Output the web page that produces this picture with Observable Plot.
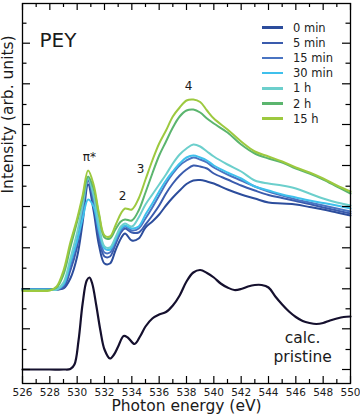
<!DOCTYPE html>
<html><head><meta charset="utf-8">
<script src="https://cdn.jsdelivr.net/npm/d3@7"></script>
<script src="https://cdn.jsdelivr.net/npm/@observablehq/plot@0.6"></script>
<style>
body{margin:0;background:#fff;font-family:"DejaVu Sans",sans-serif;}
#wrap{position:relative;width:360px;height:420px;}
#legend{position:absolute;left:262px;top:20px;font-size:11.5px;color:#222;font-family:"DejaVu Sans",sans-serif;}
.row{display:flex;align-items:center;height:15.2px;white-space:nowrap;}
.sw{width:21px;height:2.5px;margin-right:10px;}
</style></head><body><div id="wrap"></div>
<script>
// Photon energy grid (eV) for measured PEY spectra
const energy = [526, 527, 528, 528.5, 529, 529.5, 530, 530.4, 530.8, 531.2, 531.6, 532, 532.4, 532.8, 533.2, 533.5, 534, 534.5, 535, 535.5, 536, 536.5, 537, 537.5, 538, 538.5, 539, 539.5, 540, 541, 542, 543, 544, 545, 546, 547, 548, 549, 550];

const s0min  = [80.5, 80.5, 80.5, 80, 81, 91, 113, 147, 185, 159, 124, 106, 106, 119, 131, 136, 129, 131, 142, 148, 155, 164, 172, 179, 185.5, 189, 189.5, 188, 186, 180, 175, 171, 167, 166, 165, 162.5, 160, 157, 154];
const s5min  = [80.5, 80.5, 80.5, 80, 82, 99, 123, 156, 189, 165, 131, 113, 113, 125, 137, 141, 137, 137, 145, 154, 164, 176, 186, 194, 200, 204, 203, 201, 196, 190, 184, 179, 174.5, 171.5, 168.5, 165.5, 162, 159, 156];
const s15min = [80.5, 80.5, 80.5, 80, 84, 104, 129, 159, 191, 169, 136, 117, 117, 128, 139, 143, 139, 141, 151, 162, 174, 186, 196, 204, 209, 212, 210, 207, 202, 195, 189, 183, 178, 174, 170, 167, 164, 161, 158];
const s30min = [80, 80, 80, 80, 85, 107, 129, 151, 170, 163, 139, 121, 120, 130, 141, 144, 141, 143, 155, 166, 178, 189, 198, 206, 212, 214, 212, 209, 204, 197, 191, 183, 179, 175, 172, 169, 166.5, 164, 161];
const s1h    = [79.5, 79.5, 79.5, 80, 87, 111, 137, 164, 191, 174, 144, 123, 122, 132, 143, 146, 143, 152, 165, 175, 185, 195, 206, 215, 221, 225, 223, 218, 213, 205, 198, 189, 186, 184, 181, 176, 171, 167, 164];
const s2h    = [79, 79, 79.5, 82, 95, 122, 148, 171, 193, 181, 154, 132, 131, 140, 148, 150, 149, 159, 177, 196, 214, 228, 242, 253, 259, 260, 257, 251, 246, 237, 225, 216, 211, 207, 201, 196, 190, 183, 176];
const s15h   = [78.5, 78.5, 79, 83, 99, 127, 151, 174, 199, 185, 156, 134, 133, 144, 156, 161, 160, 171, 190, 209, 226, 239, 253, 262, 269, 270, 267.5, 259, 251, 240, 228, 218, 213, 208, 202, 197, 191, 184, 178];

const seriesNames = ["0 min", "5 min", "15 min", "30 min", "1 h", "2 h", "15 h"];
const seriesValues = [s0min, s5min, s15min, s30min, s1h, s2h, s15h];
const seriesColors = ["#2c4d9c", "#3a5bad", "#4a74c2", "#3fc0ec", "#6ccfcc", "#5bb56e", "#9dc93f"];

// Calculated pristine spectrum
const calcEnergy = [526, 528, 529, 529.5, 529.8, 530.1, 530.4, 530.7, 530.9, 531.1, 531.4, 531.7, 532, 532.4, 532.7, 533, 533.4, 533.7, 534.2, 534.6, 535, 535.5, 536, 536.5, 537, 537.5, 538, 538.5, 539, 539.5, 540, 540.5, 541, 541.5, 542, 542.5, 543, 543.5, 544, 544.5, 545, 545.5, 546, 546.5, 547, 547.5, 548, 548.5, 549, 549.5, 550];
const calcValues = [0, 0, 0, 0.5, 5, 29, 66, 89, 92, 86, 64, 39, 20, 11, 15, 23, 33.5, 32, 25.5, 33, 43, 51, 55, 57.5, 64, 74, 88, 97, 99.5, 96.5, 92, 86, 82, 79.5, 80.5, 83, 84.5, 84.5, 82, 73, 65, 58, 52.5, 48.5, 46.5, 45.5, 46.5, 49, 51, 52.5, 53];

// Axis ticks
const xMajor = [526, 528, 530, 532, 534, 536, 538, 540, 542, 544, 546, 548, 550];
const xMinor = [527, 529, 531, 533, 535, 537, 539, 541, 543, 545, 547, 549];
const yMajor = [0, 40.7, 80.7, 121.7, 163, 204, 245, 285.7, 326.3];
const yMinor = [20, 60.7, 101.3, 142.3, 183.3, 224, 265, 306.3, 346.3];

// Peak annotations
const annoText = ["π*", "2", "3", "4"];
const annoE = [530.9, 533.33, 534.64, 538.16];
const annoI = [212, 173, 200, 283];

const xLabel = "Photon energy (eV)";
const yLabel = "Intensity (arb. units)";
const panelTitle = "PEY";
const calcLabel = "calc.\npristine";
const calcLabelE = 546.5, calcLabelI = 23;

const lines = seriesNames.flatMap((s, i) => energy.map((e, j) => ({E: e, I: seriesValues[i][j], s})));
const calc = calcEnergy.map((e, j) => ({E: e, I: calcValues[j]}));
const annos = annoText.map((t, i) => ({t, E: annoE[i], I: annoI[i]}));

const innerH = 380, innerW = 328;
const font = "DejaVu Sans";

const chart = Plot.plot({
  width: 360, height: 420,
  marginLeft: 22, marginRight: 10, marginTop: 3, marginBottom: 37,
  style: {fontFamily: font, background: "#fff", overflow: "visible"},
  x: {domain: [526, 550], axis: null},
  y: {domain: [-14, 366], axis: null},
  color: {domain: seriesNames, range: seriesColors},
  marks: [
    Plot.line(calc, {x: "E", y: "I", stroke: "#15102e", strokeWidth: 2.2, curve: "catmull-rom"}),
    Plot.line(lines, {x: "E", y: "I", z: "s", stroke: "s", strokeWidth: 2, curve: "catmull-rom"}),
    Plot.tickX(xMajor, {x: d => d, insetTop: innerH - 7, stroke: "black", strokeWidth: 1.2}),
    Plot.tickX(xMinor, {x: d => d, insetTop: innerH - 4, stroke: "black", strokeWidth: 1.2}),
    Plot.tickX(xMajor, {x: d => d, insetBottom: innerH - 7, stroke: "black", strokeWidth: 1.2}),
    Plot.tickX(xMinor, {x: d => d, insetBottom: innerH - 4, stroke: "black", strokeWidth: 1.2}),
    Plot.tickY(yMajor, {y: d => d, insetRight: innerW - 8, stroke: "black", strokeWidth: 1.2}),
    Plot.tickY(yMinor, {y: d => d, insetRight: innerW - 4.5, stroke: "black", strokeWidth: 1.2}),
    Plot.tickY(yMajor, {y: d => d, insetLeft: innerW - 8, stroke: "black", strokeWidth: 1.2}),
    Plot.tickY(yMinor, {y: d => d, insetLeft: innerW - 4.5, stroke: "black", strokeWidth: 1.2}),
    Plot.frame({stroke: "black", strokeWidth: 1.3}),
    Plot.text(xMajor, {x: d => d, text: d => String(d), frameAnchor: "bottom", dy: 12, fontSize: 10.5, fill: "#1a1a1a"}),
    Plot.text([xLabel], {frameAnchor: "bottom", dy: 27, fontSize: 15.5, fill: "#1a1a1a"}),
    Plot.text([yLabel], {frameAnchor: "left", dx: -14, rotate: -90, fontSize: 15.5, fill: "#1a1a1a"}),
    Plot.text([panelTitle], {frameAnchor: "top-left", dx: 17, dy: 29, textAnchor: "start", fontSize: 20, fill: "#1a1a1a"}),
    Plot.text(annos, {x: "E", y: "I", text: "t", fontSize: 12, fill: "#1a1a1a"}),
    Plot.text([calcLabel], {x: () => calcLabelE, y: () => calcLabelI, fontSize: 15.5, lineHeight: 1.23, fill: "#1a1a1a"})
  ]
});

const wrap = document.getElementById("wrap");
wrap.appendChild(chart);
const legend = document.createElement("div");
legend.id = "legend";
seriesNames.forEach((s, i) => {
  const row = document.createElement("div");
  row.className = "row";
  const sw = document.createElement("span");
  sw.className = "sw";
  sw.style.background = seriesColors[i];
  const lab = document.createElement("span");
  lab.textContent = s;
  row.appendChild(sw); row.appendChild(lab);
  legend.appendChild(row);
});
wrap.appendChild(legend);
</script></body></html>
